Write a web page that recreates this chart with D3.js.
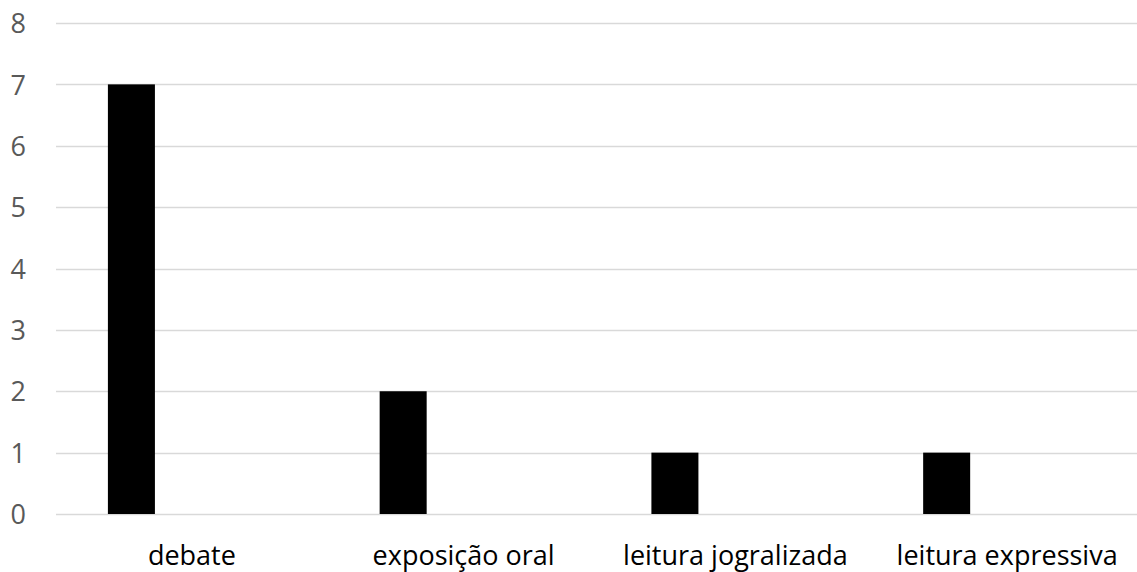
<!DOCTYPE html>
<html>
<head>
<meta charset="utf-8">
<script src="https://cdn.jsdelivr.net/npm/d3@7"></script>
<style>
  html, body { margin: 0; padding: 0; background: #fff; }
  svg { display: block; }
  text { font-family: "Open Sans", "Noto Sans", sans-serif; }
</style>
</head>
<body>
<svg id="chart" width="1137" height="572"></svg>
<script>
// Number of occurrences per oral activity
const categories = ["debate", "exposição oral", "leitura jogralizada", "leitura expressiva"];
const counts = [7, 2, 1, 1];
const yTicks = [0, 1, 2, 3, 4, 5, 6, 7, 8];

const svg = d3.select("#chart");
const plot = { left: 56, right: 1143, top: 23, bottom: 514 };

const x = d3.scaleBand()
  .domain(categories)
  .range([plot.left, plot.right])
  .padding(0);

const y = d3.scaleLinear()
  .domain([0, 8])
  .range([plot.bottom, plot.top]);

// horizontal gridlines
svg.append("g")
  .selectAll("line")
  .data(yTicks)
  .join("line")
  .attr("x1", plot.left)
  .attr("x2", plot.right)
  .attr("y1", d => Math.round(y(d)) + 0.5)
  .attr("y2", d => Math.round(y(d)) + 0.5)
  .attr("stroke", "#d9d9d9")
  .attr("stroke-width", 1.3);

// y axis labels
const yAxis = d3.axisLeft(y).tickValues(yTicks).tickSize(0).tickPadding(0).tickFormat(d3.format("d"));
const gy = svg.append("g")
  .attr("transform", `translate(26,0)`)
  .call(yAxis);
gy.select(".domain").remove();
gy.selectAll("text")
  .attr("fill", "#595959")
  .style("font-size", "27px")
  .attr("dy", "0.36em");

// bars, set slightly left within each category slot
const barOffset = 0.191, barWidth = 0.173;
svg.append("g")
  .selectAll("rect")
  .data(categories.map((c, i) => ({ c, v: counts[i] })))
  .join("rect")
  .attr("x", d => x(d.c) + x.bandwidth() * barOffset)
  .attr("width", x.bandwidth() * barWidth)
  .attr("y", d => y(d.v))
  .attr("height", d => y(0) - y(d.v))
  .attr("fill", "#000");

// category labels
const xAxis = d3.axisBottom(x).tickSize(0).tickPadding(0);
const gx = svg.append("g")
  .attr("transform", `translate(0,${plot.bottom})`)
  .call(xAxis);
gx.select(".domain").remove();
gx.selectAll("text")
  .attr("fill", "#000")
  .attr("y", 51)
  .attr("dy", 0)
  .style("font-size", "27px");
</script>
</body>
</html>
